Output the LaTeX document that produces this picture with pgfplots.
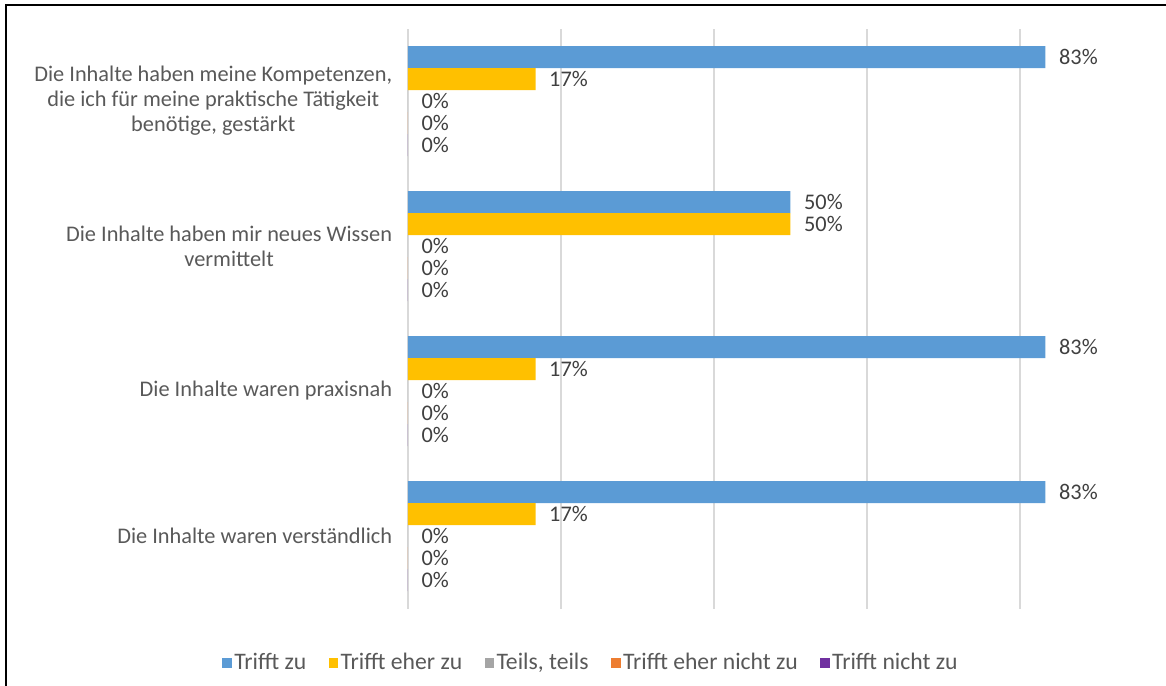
\documentclass[border=0pt]{standalone}
\usepackage{pgfplots}
\pgfplotsset{compat=1.18}
\usepackage{fontspec}
\setmainfont{Carlito}
\definecolor{cBlue}{HTML}{5B9BD5}
\definecolor{cYellow}{HTML}{FFC000}
\definecolor{cGray}{HTML}{A5A5A5}
\definecolor{cOrange}{HTML}{ED7D31}
\definecolor{cPurple}{HTML}{7030A0}
\definecolor{txt}{HTML}{595959}
\definecolor{lbl}{HTML}{404040}
\definecolor{grd}{HTML}{D9D9D9}
\begin{document}
\begin{tikzpicture}
\useasboundingbox (0,0) rectangle (699.6pt,-411.6pt);
\draw[black, line width=1.2pt] (3.6pt,-411.6pt) -- (3.6pt,-3pt) -- (699.6pt,-3pt);
\begin{axis}[
  at={(244.8pt,-365.1pt)}, anchor=south west,
  scale only axis, width=413.1pt, height=348pt,
  xmin=0, xmax=90, ymin=-0.5, ymax=3.5,
  xtick={0,20,40,60,80}, xticklabels={},
  xmajorgrids, grid style={grd, line width=0.9pt},
  ytick={0,1,2,3},
  yticklabels={Die Inhalte waren verständlich, Die Inhalte waren praxisnah, {Die Inhalte haben mir neues Wissen\\vermittelt}, {Die Inhalte haben meine Kompetenzen,\\die ich für meine praktische Tätigkeit\\benötige, gestärkt}},
  yticklabel style={align=center, font=\fontsize{13.4}{15}\selectfont, text=txt, xshift=-6pt},
  axis line style={draw=none}, major tick style={draw=none},
  point meta=x,
  /pgf/number format/assume math mode=true,
  nodes near coords={\pgfmathprintnumber[fixed,precision=0,assume math mode=true]{\pgfplotspointmeta}\%},
  every node near coord/.append style={anchor=west, inner sep=0pt, xshift=8pt, font=\fontsize{13.4}{15}\selectfont, text=lbl},
  legend columns=5,
  legend style={draw=none, at={(0.266,-0.094)}, anchor=center, font=\fontsize{14.2}{16}\selectfont, text=txt, nodes={inner sep=1.4pt}, /tikz/every even column/.append style={column sep=12pt}},
]
\addplot[xbar, bar width=13.2pt, bar shift=26.4pt, fill=cBlue, draw=none, every node near coord/.append style={yshift=26.4pt}, legend image code/.code={\fill[cBlue] (0pt,-2.9pt) rectangle (5.8pt,2.9pt);}] coordinates {(83.33,0) (83.33,1) (50,2) (83.33,3)};
\addlegendentry{Trifft zu}
\addplot[xbar, bar width=13.2pt, bar shift=13.2pt, fill=cYellow, draw=none, every node near coord/.append style={yshift=13.2pt}, legend image code/.code={\fill[cYellow] (0pt,-2.9pt) rectangle (5.8pt,2.9pt);}] coordinates {(16.67,0) (16.67,1) (50,2) (16.67,3)};
\addlegendentry{Trifft eher zu}
\addplot[xbar, bar width=13.2pt, bar shift=0pt, fill=cGray, draw=none, legend image code/.code={\fill[cGray] (0pt,-2.9pt) rectangle (5.8pt,2.9pt);}] coordinates {(0,0) (0,1) (0,2) (0,3)};
\addlegendentry{Teils, teils}
\addplot[xbar, bar width=13.2pt, bar shift=-13.2pt, fill=cOrange, draw=none, every node near coord/.append style={yshift=-13.2pt}, legend image code/.code={\fill[cOrange] (0pt,-2.9pt) rectangle (5.8pt,2.9pt);}] coordinates {(0,0) (0,1) (0,2) (0,3)};
\addlegendentry{Trifft eher nicht zu}
\addplot[xbar, bar width=13.2pt, bar shift=-26.4pt, fill=cPurple, draw=none, every node near coord/.append style={yshift=-26.4pt}, legend image code/.code={\fill[cPurple] (0pt,-2.9pt) rectangle (5.8pt,2.9pt);}] coordinates {(0,0) (0,1) (0,2) (0,3)};
\addlegendentry{Trifft nicht zu}
\end{axis}
\end{tikzpicture}
\end{document}
